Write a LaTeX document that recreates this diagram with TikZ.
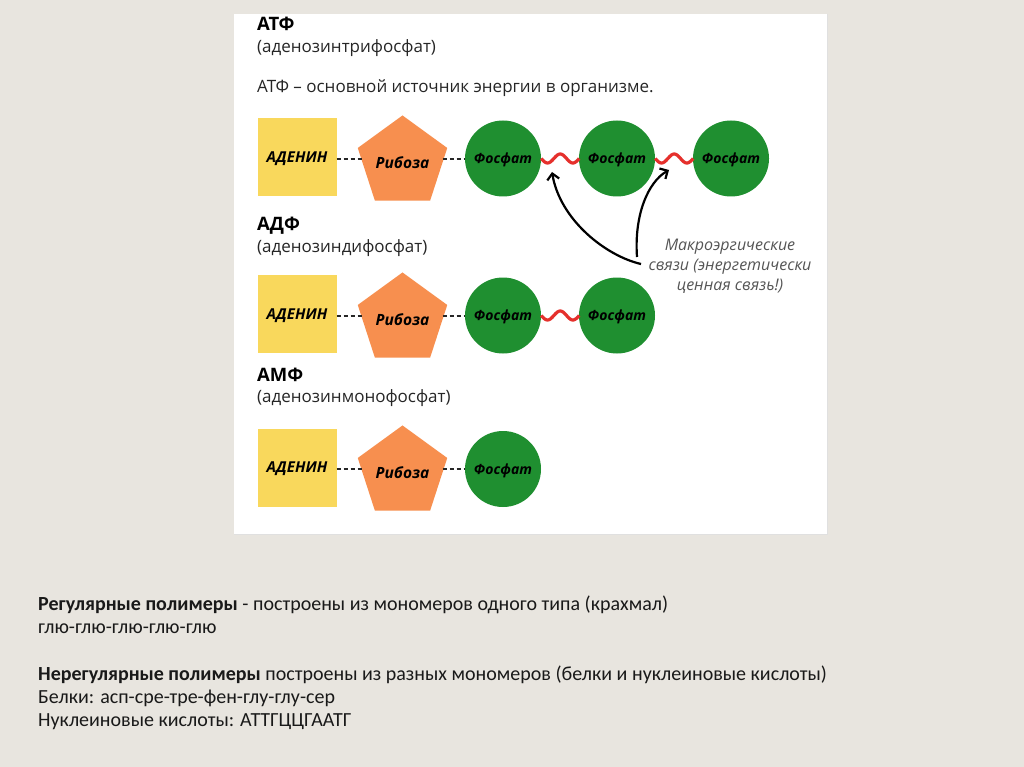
\documentclass[tikz,border=0pt]{standalone}
\usepackage{fontspec}
\setmainfont{Open Sans}
\newfontfamily\carl{Carlito}
\usetikzlibrary{shapes.geometric,arrows.meta}
\definecolor{bg}{HTML}{E8E5DF}
\definecolor{adyel}{HTML}{F9D85C}
\definecolor{riborange}{HTML}{F78F4F}
\definecolor{phgreen}{HTML}{1F8F30}
\definecolor{bondred}{HTML}{E5302C}
\definecolor{mkgray}{HTML}{555555}
\tikzset{
  aden/.style={rectangle, fill=adyel, minimum width=79pt, minimum height=78pt, inner sep=0pt, text depth=0pt,
    font=\bfseries\itshape\fontsize{15}{16}\selectfont},
  ribo/.style={regular polygon, regular polygon sides=5, fill=riborange, minimum size=87pt, inner sep=0pt, text depth=0pt,
    font=\bfseries\itshape\fontsize{15.5}{16}\selectfont},
  phos/.style={circle, fill=phgreen, minimum size=76pt, inner sep=0pt, text depth=0pt,
    font=\bfseries\itshape\fontsize{14}{16}\selectfont},
  dashbond/.style={black!85, line width=1.5pt, dash pattern=on 4.5pt off 2.5pt},
  bond/.style={bondred, line width=3.2pt},
  title/.style={anchor=base west, inner sep=0pt, font=\bfseries\fontsize{18.5}{20}\selectfont},
  subtitle/.style={anchor=base west, inner sep=0pt, text=black!85, font=\fontsize{17}{20}\selectfont},
  arr/.style={black, line width=2.2pt, -{Straight Barb[length=6pt,width=12pt]}},
  mk/.style={align=center, inner sep=0pt, text=mkgray, font=\itshape\fontsize{16}{20}\selectfont},
  bot/.style={anchor=base west, inner sep=0pt, text=black!90, font=\carl\fontsize{20}{22}\selectfont}
}
\begin{document}
\begin{tikzpicture}[x=1pt,y=-1pt]
\useasboundingbox (0,0) rectangle (1024,767);
\fill[bg] (0,0) rectangle (1024,767);
\fill[white] (234,14) rectangle (827,534);
\draw[black!12, line width=1pt] (827,14) -- (827,534) -- (234,534);

% ATP
\node[title] (t1) at (257,30.7) {АТФ};
\node[subtitle] (s1) at (257,53) {(аденозинтрифосфат)};
\node[subtitle] (d1) at (257,93) {АТФ – основной источник энергии в организме.};
\node[aden] (a1) at (297,157) {АДЕНИН};
\node[ribo] (r1) at (402.5,162.5) {Рибоза};
\node[phos] (p11) at (503,158.5) {Фосфат};
\node[phos] (p12) at (617,158.5) {Фосфат};
\node[phos] (p13) at (731,158.5) {Фосфат};
\draw[dashbond] (a1.east |- 0,159) -- (r1.west |- 0,159);
\draw[dashbond] (r1.east |- 0,159) -- (p11.west |- 0,159);
\draw[bond, shift={(p11.east)}] plot[domain=0:38, samples=40] (\x, {4.5*sin(360*\x/25.33)});
\draw[bond, shift={(p12.east)}] plot[domain=0:38, samples=40] (\x, {4.5*sin(360*\x/25.33)});

% arrows and label
\node[mk] (mk) at (730,266) {Макроэргические\\связи (энергетически\\ценная связь!)};
\coordinate (o1) at (641,264);
\coordinate (o2) at (637,257);
\coordinate (w1) at (552,172);
\coordinate (w2) at (669,170);
\draw[arr] (o1) .. controls (606,256) and (560,220) .. (w1);
\draw[arr] (o2) .. controls (634,215) and (648,182) .. (w2);

% ADP
\node[title] (t2) at (257,230.5) {АДФ};
\node[subtitle] (s2) at (257,252) {(аденозиндифосфат)};
\node[aden] (a2) at (297,314) {АДЕНИН};
\node[ribo] (r2) at (402.5,319.5) {Рибоза};
\node[phos] (p21) at (503,315.5) {Фосфат};
\node[phos] (p22) at (617,315.5) {Фосфат};
\draw[dashbond] (a2.east |- 0,316) -- (r2.west |- 0,316);
\draw[dashbond] (r2.east |- 0,316) -- (p21.west |- 0,316);
\draw[bond, shift={(p21.east)}] plot[domain=0:38, samples=40] (\x, {4.5*sin(360*\x/25.33)});

% AMP
\node[title] (t3) at (257,381) {АМФ};
\node[subtitle] (s3) at (257,402) {(аденозинмонофосфат)};
\node[aden] (a3) at (297,467.5) {АДЕНИН};
\node[ribo] (r3) at (402.5,472.5) {Рибоза};
\node[phos] (p31) at (503,469) {Фосфат};
\draw[dashbond] (a3.east |- 0,469) -- (r3.west |- 0,469);
\draw[dashbond] (r3.east |- 0,469) -- (p31.west |- 0,469);

% bottom text
\node[bot] (b1) at (38,610) {\textbf{Регулярные полимеры} - построены из мономеров одного типа (крахмал)};
\node[bot] (b2) at (38,633) {глю-глю-глю-глю-глю};
\node[bot] (b3) at (38,680) {\textbf{Нерегулярные полимеры} построены из разных мономеров (белки и нуклеиновые кислоты)};
\node[bot] (b4) at (38,703) {Белки: асп-сре-тре-фен-глу-глу-сер};
\node[bot] (b5) at (38,726) {Нуклеиновые кислоты: АТТГЦЦГААТГ};
\end{tikzpicture}
\end{document}
